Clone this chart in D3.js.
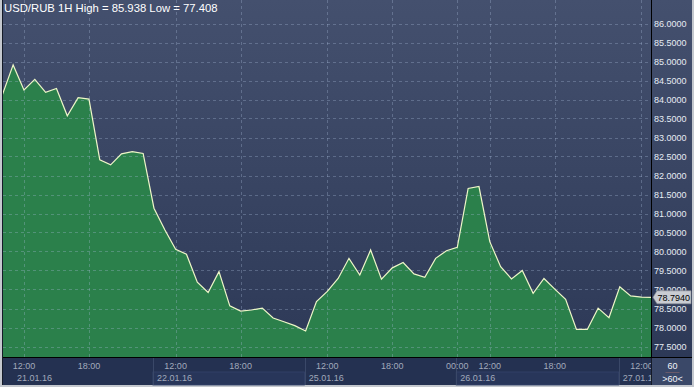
<!DOCTYPE html>
<html><head><meta charset="utf-8">
<script src="https://cdn.jsdelivr.net/npm/d3@7"></script>
<style>html,body{margin:0;padding:0;background:#c4c8ce;}svg{display:block;}text{font-family:"Liberation Sans",Arial,sans-serif;}</style>
</head><body>
<svg id="c" width="694" height="387"></svg>
<script>
// ---- data ----
const title = "USD/RUB 1H High = 85.938 Low = 77.408";
const barIndex = d3.range(-2, 59);
const prices = [84.12,84.91,84.25,84.53,84.19,84.29,83.57,84.05,84.01,82.41,
  82.28,82.57,82.63,82.58,81.14,80.57,80.06,79.93,79.19,78.92,
  79.47,78.57,78.43,78.46,78.51,78.25,78.15,78.05,77.91,78.68,
  78.95,79.29,79.82,79.38,80.04,79.27,79.57,79.71,79.41,79.32,
  79.82,80.02,80.11,81.66,81.71,80.26,79.60,79.28,79.50,78.90,
  79.29,79.01,78.74,77.95,77.95,78.51,78.26,79.07,78.83,78.80,78.794];
const lastPrice = "78.7940";
const yTicks = d3.range(77.5, 86.01, 0.5);
const timeTickIdx = [0, 6, 14, 20, 28, 34, 40, 43, 49, 57];
const timeTickLbl = ["12:00","18:00","12:00","18:00","12:00","18:00","00:00","12:00","18:00","12:00"];
const dayStartIdx = [-3, 12, 26, 40, 55];
const dayLbl = ["21.01.16","22.01.16","25.01.16","26.01.16","27.01.16"];
const periodLbl = ["60", ">60<"];

// ---- layout ----
const W = 694, H = 387;
const L = 3, R = 651, T = 0, B = 357, AX = 692;
const svg = d3.select("#c");
const defs = svg.append("defs");
const g1 = defs.append("linearGradient").attr("id","bg").attr("x1",0).attr("y1",0).attr("x2",0).attr("y2",1);
g1.append("stop").attr("offset","0%").attr("stop-color","#44506e");
g1.append("stop").attr("offset","100%").attr("stop-color","#2d3957");
defs.append("clipPath").attr("id","pc").append("rect").attr("x",L).attr("y",T).attr("width",R-L).attr("height",B-T);
defs.append("clipPath").attr("id","bc").append("rect").attr("x",L).attr("y",B).attr("width",R-L).attr("height",H-B);

const x = d3.scaleLinear().domain([-2, 58]).range([2.3, 652.3]);
const y = d3.scaleLinear().domain([77.5, 86]).range([346.5, 23.5]);
const ly = y(+lastPrice);
// labels above the marker are cut at its top edge
defs.append("clipPath").attr("id","mc").append("rect").attr("x",R).attr("y",0).attr("width",AX-R).attr("height",ly-6.5);

// frame
svg.append("rect").attr("x",0).attr("y",0).attr("width",W).attr("height",H).attr("fill","#c4c8ce");
svg.append("rect").attr("x",2).attr("y",0).attr("width",AX-2).attr("height",H-2).attr("fill","#151b28");
svg.append("rect").attr("x",L).attr("y",T).attr("width",AX-L).attr("height",B-T).attr("fill","url(#bg)");

const pg = svg.append("g").attr("clip-path","url(#pc)");
const data = barIndex.map((i,k)=>({i, v: prices[k]}));
pg.append("path").datum(data)
  .attr("d", d3.area().x(d=>x(d.i)).y0(B).y1(d=>y(d.v)))
  .attr("fill","#2b804b");

// grid
const gridCol = "#a8bad8";
pg.selectAll(".hg").data(yTicks).join("line")
  .attr("x1",L).attr("x2",R).attr("y1",d=>Math.round(y(d))+0.5).attr("y2",d=>Math.round(y(d))+0.5)
  .attr("stroke",gridCol).attr("stroke-opacity",0.33).attr("stroke-dasharray","3,3");
pg.selectAll(".vg").data(timeTickIdx).join("line")
  .attr("x1",d=>Math.round(x(d))+0.5).attr("x2",d=>Math.round(x(d))+0.5).attr("y1",T).attr("y2",B)
  .attr("stroke",gridCol).attr("stroke-opacity",0.33).attr("stroke-dasharray","3,3");

pg.append("path").datum(data)
  .attr("d", d3.line().x(d=>x(d.i)).y(d=>y(d.v)))
  .attr("fill","none").attr("stroke","#eef6c8").attr("stroke-width",1.2);

// title
svg.append("text").attr("x",4).attr("y",12).attr("fill","#ffffff").attr("font-size",11.3).text(title);

// right axis
svg.append("line").attr("x1",R+0.5).attr("x2",R+0.5).attr("y1",T).attr("y2",B).attr("stroke","#000").attr("stroke-width",1);
const yg = svg.append("g");
yg.selectAll("text").data(yTicks).join("text")
  .attr("x",R+3).attr("y",d=>y(d)+3.5).attr("fill","#e6ecf4").attr("font-size",9)
  .attr("clip-path",d=>(y(d)<ly && ly-y(d)<12) ? "url(#mc)" : null)
  .text(d=>d.toFixed(4));

// last price marker
svg.append("path").attr("d",`M${R+2},${ly} L${R+6},${ly-6.5} H${AX-1} V${ly+6.5} H${R+6} Z`)
  .attr("fill","#c9ccd2").attr("stroke","#8a8e96").attr("stroke-width",0.6);
svg.append("text").attr("x",R+6.5).attr("y",ly+3.3).attr("fill","#000").attr("font-size",9).text(lastPrice);

// bottom axis
svg.append("rect").attr("x",L).attr("y",B).attr("width",R-L).attr("height",H-2-B).attr("fill","#243151");
svg.append("line").attr("x1",L).attr("x2",AX).attr("y1",B+0.5).attr("y2",B+0.5).attr("stroke","#000");
const bg2 = svg.append("g").attr("clip-path","url(#bc)");
dayStartIdx.forEach((d,k)=>{
  const x0 = x(d-0.1), x1 = k+1<dayStartIdx.length ? x(dayStartIdx[k+1]-0.1) : R;
  if (k%2===1) {
    bg2.append("rect").attr("x",x0).attr("y",372).attr("width",x1-x0).attr("height",H-2-372)
      .attr("fill","#28365a").attr("stroke","#34436a").attr("stroke-width",0.8);
  }
  if (k>0) bg2.append("line").attr("x1",Math.round(x0)+0.5).attr("x2",Math.round(x0)+0.5).attr("y1",B+1).attr("y2",H-2)
    .attr("stroke","#3a4868").attr("stroke-width",1);
});
bg2.selectAll(".tl").data(timeTickIdx).join("text")
  .attr("x",d=>x(d)).attr("y",369).attr("text-anchor","middle").attr("fill","#a2aabb").attr("font-size",9)
  .text((d,k)=>timeTickLbl[k]);
bg2.selectAll(".dl").data(dayStartIdx).join("text")
  .attr("x",d=>Math.max(x(d), 14)+3).attr("y",381).attr("fill","#a2aabb").attr("font-size",9)
  .text((d,k)=>dayLbl[k]);

// corner box
svg.append("rect").attr("x",R+1).attr("y",B+1).attr("width",AX-R-1).attr("height",H-3-B).attr("fill","#3a4868");
svg.append("text").attr("x",(R+AX)/2+1).attr("y",369).attr("text-anchor","middle").attr("fill","#f0f4fa").attr("font-size",9).text(periodLbl[0]);
svg.append("line").attr("x1",(R+AX)/2-6).attr("x2",(R+AX)/2+8).attr("y1",372.5).attr("y2",372.5).attr("stroke","#6a5a6a");
svg.append("text").attr("x",(R+AX)/2+1).attr("y",382).attr("text-anchor","middle").attr("fill","#f0f4fa").attr("font-size",9).text(periodLbl[1]);
</script>
</body></html>
